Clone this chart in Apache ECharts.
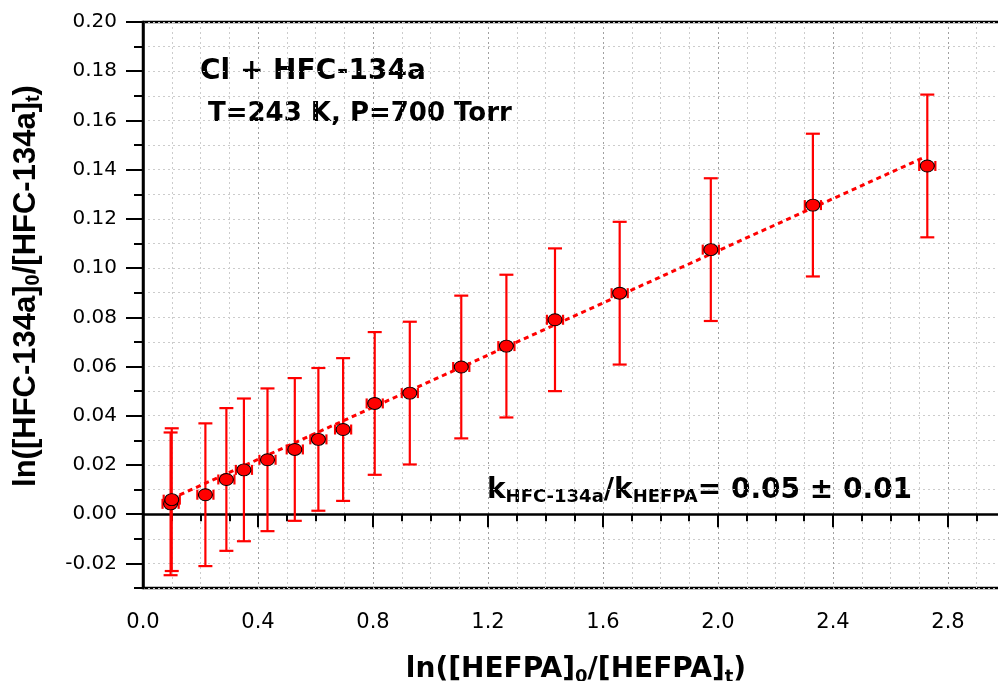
<!DOCTYPE html>
<html>
<head>
<meta charset="utf-8">
<script src="https://cdn.jsdelivr.net/npm/echarts@6/dist/echarts.min.js"></script>
<style>
  html, body { margin: 0; padding: 0; background: #fff; }
  #chart { width: 998px; height: 681px; }
</style>
</head>
<body>
<div id="chart"></div>
<script>
// measured points: ln([HEFPA]0/[HEFPA]t) vs ln([HFC-134a]0/[HFC-134a]t)
const xValues = [0.096, 0.100, 0.217, 0.290, 0.351, 0.433, 0.528, 0.610, 0.696, 0.806, 0.928, 1.107, 1.264, 1.433, 1.658, 1.975, 2.330, 2.728];
const yValues = [0.0042, 0.0059, 0.0079, 0.0141, 0.0180, 0.0221, 0.0263, 0.0304, 0.0344, 0.0450, 0.0492, 0.0598, 0.0683, 0.0790, 0.0898, 0.1075, 0.1256, 0.1415];
const yErrors = [0.029, 0.029, 0.029, 0.029, 0.029, 0.029, 0.029, 0.029, 0.029, 0.029, 0.029, 0.029, 0.029, 0.029, 0.029, 0.029, 0.029, 0.029];
const xErrors = [0.028, 0.028, 0.028, 0.028, 0.028, 0.028, 0.028, 0.028, 0.028, 0.028, 0.028, 0.028, 0.028, 0.028, 0.028, 0.028, 0.028, 0.028];

// linear fit drawn as dotted line
const fitX = [0.099, 2.715];
const fitY = [0.0063, 0.1449];

const yTickLabels = [-0.02, 0.00, 0.02, 0.04, 0.06, 0.08, 0.10, 0.12, 0.14, 0.16, 0.18, 0.20];

const RED = "#ff0000";
const SANS = '"DejaVu Sans", sans-serif';
const ARIAL = '"Liberation Sans", Arial, sans-serif';

const chart = echarts.init(document.getElementById("chart"));

function renderErrorBar(params, api) {
  const x = api.value(0);
  const y = api.value(1);
  const ex = api.value(2);
  const ey = api.value(3);
  const top = api.coord([x, y + ey]);
  const bottom = api.coord([x, y - ey]);
  const left = api.coord([x - ex, y]);
  const right = api.coord([x + ex, y]);
  const capW = 7;
  const capH = 5;
  const style = { stroke: RED, lineWidth: 2.2 };
  const line = (x1, y1, x2, y2) => ({ type: "line", shape: { x1, y1, x2, y2 }, style });
  return {
    type: "group",
    children: [
      line(top[0], top[1], bottom[0], bottom[1]),
      line(top[0] - capW, top[1], top[0] + capW, top[1]),
      line(bottom[0] - capW, bottom[1], bottom[0] + capW, bottom[1]),
      line(left[0], left[1], right[0], right[1]),
      line(left[0], left[1] - capH, left[0], left[1] + capH),
      line(right[0], right[1] - capH, right[0], right[1] + capH),
    ],
  };
}

const option = {
  backgroundColor: "#fff",
  animation: false,
  grid: {
    left: 143,
    top: 22,
    width: 920,
    bottom: 93,
    outerBoundsMode: "none",
    containLabel: false,
    show: true,
    borderColor: "#000",
    borderWidth: 2.5,
  },
  xAxis: {
    type: "value",
    min: 0,
    max: 3.2,
    interval: 0.4,
    name: "{m|ln([HEFPA]}{s|0}{m|/[HEFPA]}{s|t}{m|)}",
    nameLocation: "middle",
    nameGap: 66,
    nameTextStyle: {
      padding: [0, 54, 0, 0],
      rich: {
        m: { fontFamily: SANS, fontSize: 28, fontWeight: "bold", color: "#000" },
        s: { fontFamily: SANS, fontSize: 18, fontWeight: "bold", color: "#000", padding: [14, 0, 0, 0] },
      },
    },
    axisLine: { show: true, lineStyle: { color: "#000", width: 2.5 } },
    axisTick: { length: 13, lineStyle: { color: "#000", width: 2 } },
    minorTick: { show: true, splitNumber: 4, length: 7, lineStyle: { color: "#000", width: 2 } },
    axisLabel: {
      margin: 24,
      showMaxLabel: false,
      fontFamily: SANS,
      fontSize: 21,
      color: "#000",
      formatter: (v) => v.toFixed(1),
    },
    splitLine: { show: true, lineStyle: { color: "#a0a0a0", type: [2, 3], width: 1 } },
    minorSplitLine: { show: true, lineStyle: { color: "#cccccc", type: [2, 3], width: 1 } },
  },
  yAxis: [
    {
      type: "value",
      min: -0.03,
      max: 0.2,
      interval: 0.01,
      name: "{m|ln([HFC-134a]}{s|0}{m|/[HFC-134a]}{s|t}{m|)}",
      nameLocation: "middle",
      nameGap: 100,
      nameTextStyle: {
        padding: [0, 0, 0, 38],
        rich: {
          m: { fontFamily: ARIAL, fontSize: 31, fontWeight: "bold", color: "#000" },
          s: { fontFamily: ARIAL, fontSize: 20, fontWeight: "bold", color: "#000", padding: [14, 0, 0, 0] },
        },
      },
      axisLine: { show: true, lineStyle: { color: "#000", width: 2.5 } },
      axisTick: { length: 9, lineStyle: { color: "#000", width: 2 } },
      axisLabel: {
        customValues: yTickLabels,
        margin: 26,
        fontFamily: SANS,
        fontSize: 20,
        color: "#000",
        formatter: (v) => v.toFixed(2),
      },
      splitLine: { show: true, lineStyle: { color: "#cccccc", type: [2, 3], width: 1 } },
    },
    {
      // longer ticks at the labelled values
      type: "value",
      min: -0.03,
      max: 0.2,
      interval: 0.01,
      position: "left",
      offset: 0,
      axisLine: { show: false },
      axisTick: { show: true, customValues: yTickLabels, length: 17, lineStyle: { color: "#000", width: 2 } },
      axisLabel: { show: false },
      splitLine: { show: false },
    },
  ],
  graphic: [
    {
      type: "text",
      left: 200,
      top: 58,
      style: { text: "Cl + HFC-134a", font: "bold 28px " + SANS, fill: "#000" },
    },
    {
      type: "text",
      left: 208,
      top: 101,
      style: { text: "T=243 K, P=700 Torr", font: "bold 26px " + SANS, fill: "#000" },
    },
    {
      type: "text",
      left: 487,
      top: 477,
      style: {
        text: "{m|k}{s|HFC-134a}{m|/k}{s|HEFPA}{m|= 0.05 ± 0.01}",
        rich: {
          m: { fontFamily: SANS, fontSize: 28, fontWeight: "bold", fill: "#000" },
          s: { fontFamily: SANS, fontSize: 18, fontWeight: "bold", fill: "#000", padding: [12, 0, 0, 0] },
        },
      },
    },
  ],
  series: [
    {
      type: "custom",
      renderItem: renderErrorBar,
      encode: { x: 0, y: 1 },
      data: xValues.map((x, i) => [x, yValues[i], xErrors[i], yErrors[i]]),
      z: 2,
    },
    {
      type: "line",
      data: fitX.map((x, i) => [x, fitY[i]]),
      symbol: "none",
      lineStyle: { color: RED, width: 3, type: [5, 4] },
      z: 3,
    },
    {
      type: "scatter",
      data: xValues.map((x, i) => [x, yValues[i]]),
      symbol: "circle",
      symbolSize: [14, 12],
      itemStyle: { color: RED, borderColor: "#000", borderWidth: 1, opacity: 1 },
      z: 4,
    },
  ],
};

chart.setOption(option);
</script>
</body>
</html>
